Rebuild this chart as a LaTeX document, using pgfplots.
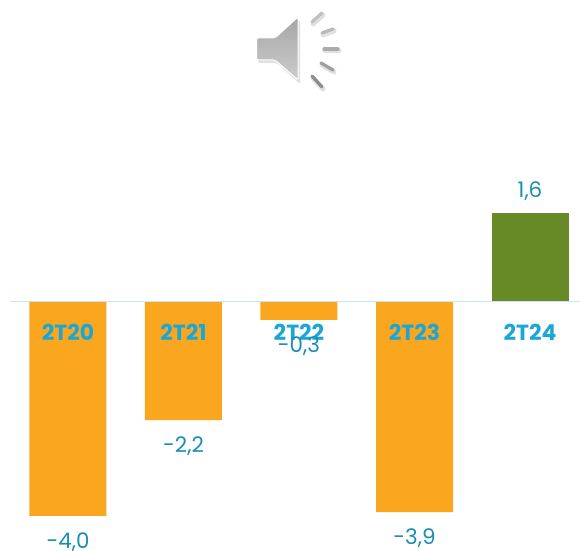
\documentclass[border=0pt]{standalone}
\usepackage{pgfplots}
\pgfplotsset{compat=1.18}
\usepackage{fontspec}
\setmainfont{Poppins}
\definecolor{baro}{HTML}{FBA61F}
\definecolor{barg}{HTML}{688A26}
\definecolor{catb}{HTML}{1BA6D6}
\definecolor{valb}{HTML}{1A8DB3}
\definecolor{zero}{HTML}{C4E6F6}
\pgfplotsset{vallabel/.style={
  draw=none,fill=none,
  on layer=axis foreground,
  nodes near coords,
  point meta=explicit symbolic,
  every node near coord/.style={font=\fontsize{21.5}{21.5}\selectfont,text=valb,anchor=center,yshift=#1}}}
\pgfplotstableread[row sep=\\]{
  x y label\\
  0 -3.99 {-4,0}\\
  1 -2.21 {-2,2}\\
  2 -0.34 {-0,3}\\
  3 -3.92 {-3,9}\\
}\negdata
\pgfplotstableread[row sep=\\]{
  x y label\\
  4 1.65 {1,6}\\
}\posdata
\begin{document}
\begin{tikzpicture}
\begin{axis}[
  set layers=standard,
  at={(0,0)},anchor=south west,
  width=580bp,height=551bp,scale only axis,
  xmin=-0.5887,xmax=4.433,
  ymin=-4.646,ymax=5.615,
  clip=false,
  axis y line=none,
  axis x line=middle,
  x axis line style={draw=none,-},
  xtick={0,1,2,3,4},
  xticklabels={2T20,2T21,2T22,2T23,2T24},
  xtick style={draw=none},
  x tick label style={font=\fontsize{22}{22}\selectfont\bfseries,text=catb,anchor=center,yshift=-27bp},
  ybar,
  bar width=77bp,
  bar shift=0pt,
]
\addplot[on layer=axis background,fill=baro,draw=none] table[x=x,y=y]{\negdata};
\addplot[on layer=axis background,fill=barg,draw=none] table[x=x,y=y]{\posdata};
\addplot[on layer=axis background,sharp plot,draw=zero,line width=1.8bp,forget plot,mark=none]
  coordinates {(-0.5,0) (4.433,0)};
\addplot[vallabel=-26bp] table[x=x,y=y,meta=label]{\negdata};
\addplot[vallabel=22bp] table[x=x,y=y,meta=label]{\posdata};
\end{axis}
\begin{scope}[x=1bp,y=-1bp,shift={(0,551bp)}]
  \fill[black!12,rounded corners=2bp] (258,41) -- (277,41) -- (300,20) -- (300,84) -- (277,63) -- (258,63) -- cycle;
  \shade[top color=black!35,bottom color=black!20,draw=white,line width=1bp,rounded corners=2bp]
    (256.5,38) -- (275,38) -- (298,17) -- (298,80) -- (275,60) -- (256.5,60) -- cycle;
  \foreach \a/\b/\c/\d/\k in {312/22/322/13/25,322/33/333/29/28,324/49/338/49/33,321/63/333/70/38,312/76/322/87/45}{
    \draw[black!12,line width=5bp,line cap=round] (\a+1,\b+2) -- (\c+1,\d+2);
    \draw[black!\k,line width=3.2bp,line cap=round] (\a,\b) -- (\c,\d);
  }
\end{scope}
\pgfresetboundingbox
\useasboundingbox (0,0) rectangle (580bp,551bp);
\end{tikzpicture}
\end{document}
